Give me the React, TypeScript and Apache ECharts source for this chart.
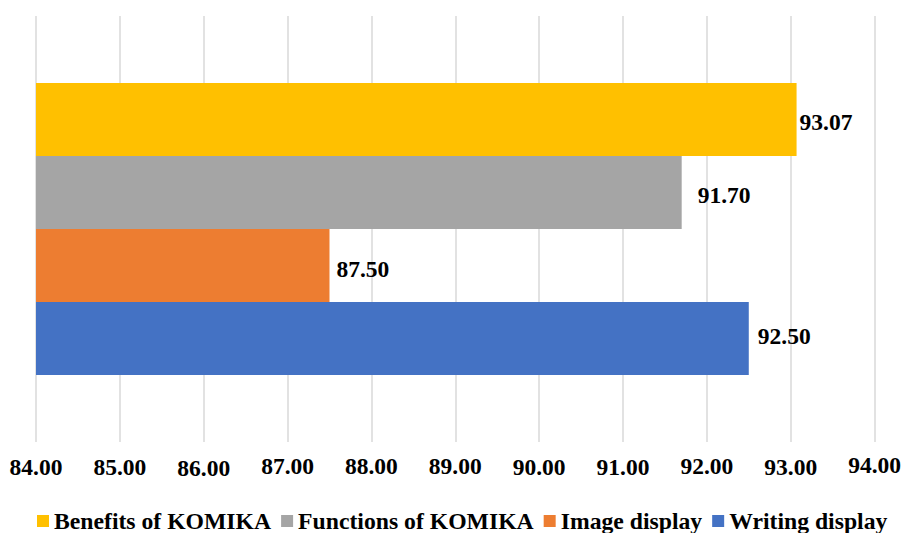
import React, { useEffect, useRef } from "react";
import * as echarts from "echarts";

// One evaluation group, four aspects scored
const categories = ["KOMIKA"];
const seriesNames = [
  "Benefits of KOMIKA",
  "Functions of KOMIKA",
  "Image display",
  "Writing display",
];
const seriesValues = [93.07, 91.7, 87.5, 92.5];
const seriesColors = ["#FFC000", "#A5A5A5", "#ED7D31", "#4472C4"];
const tickValues = [84, 85, 86, 87, 88, 89, 90, 91, 92, 93, 94];

// Per-tick vertical drop of the axis labels (staggered look)
const tickDrop = [4, 5, 7, 3, 2, 2, 5, 5, 3, 4, 0];
// Per-series label spacing from the bar end and vertical nudge
const labelDistance = [3, 16, 7, 9];
const labelNudge = [3, 3, 3, -3];

const FONT = "'Liberation Serif', 'Times New Roman', serif";

export default function App() {
  const ref = useRef<HTMLDivElement>(null);

  useEffect(() => {
    if (!ref.current) return;
    const chart = echarts.init(ref.current, undefined, { renderer: "svg" });

    const rich: Record<string, any> = {};
    tickDrop.forEach((d, i) => {
      rich["t" + i] = {
        fontFamily: FONT,
        fontWeight: "bold",
        fontSize: 23.5,
        color: "#000",
        lineHeight: 23,
        padding: [d, 0, 0, 0],
      };
    });

    chart.setOption({
      animation: false,
      backgroundColor: "#fff",
      grid: { left: 36, right: 24.7, top: 16, bottom: 91, containLabel: false },
      legend: {
        data: seriesNames,
        left: 37,
        top: 509,
        padding: 0,
        itemWidth: 12,
        itemHeight: 12,
        itemGap: 10,
        icon: "rect",
        textStyle: {
          fontFamily: FONT,
          fontWeight: "bold",
          fontSize: 23.7,
          lineHeight: 23,
          color: "#000",
        },
      },
      xAxis: {
        type: "value",
        min: tickValues[0],
        max: tickValues[tickValues.length - 1],
        interval: 1,
        axisLine: { show: false },
        axisTick: { show: false },
        splitLine: { lineStyle: { color: "#d9d9d9", width: 1.5 } },
        axisLabel: {
          margin: 11,
          formatter: (v: number) => {
            const i = tickValues.indexOf(Math.round(v));
            return "{t" + (i < 0 ? 0 : i) + "|" + v.toFixed(2) + "}";
          },
          rich,
        },
      },
      yAxis: {
        type: "category",
        data: categories,
        axisLine: { show: false },
        axisTick: { show: false },
        axisLabel: { show: false },
      },
      series: seriesNames.map((name, i) => ({
        name,
        type: "bar",
        data: [seriesValues[i]],
        barGap: "0%",
        barCategoryGap: "31.4%",
        itemStyle: { color: seriesColors[i] },
        label: {
          show: true,
          position: "right",
          distance: labelDistance[i],
          offset: [0, labelNudge[i]],
          formatter: (p: any) => Number(p.value).toFixed(2),
          fontFamily: FONT,
          fontWeight: "bold",
          fontSize: 23.5,
          color: "#000",
        },
      })),
    });

    return () => chart.dispose();
  }, []);

  return (
    <div
      ref={ref}
      style={{ position: "fixed", left: 0, top: 0, width: 904, height: 533 }}
    />
  );
}
